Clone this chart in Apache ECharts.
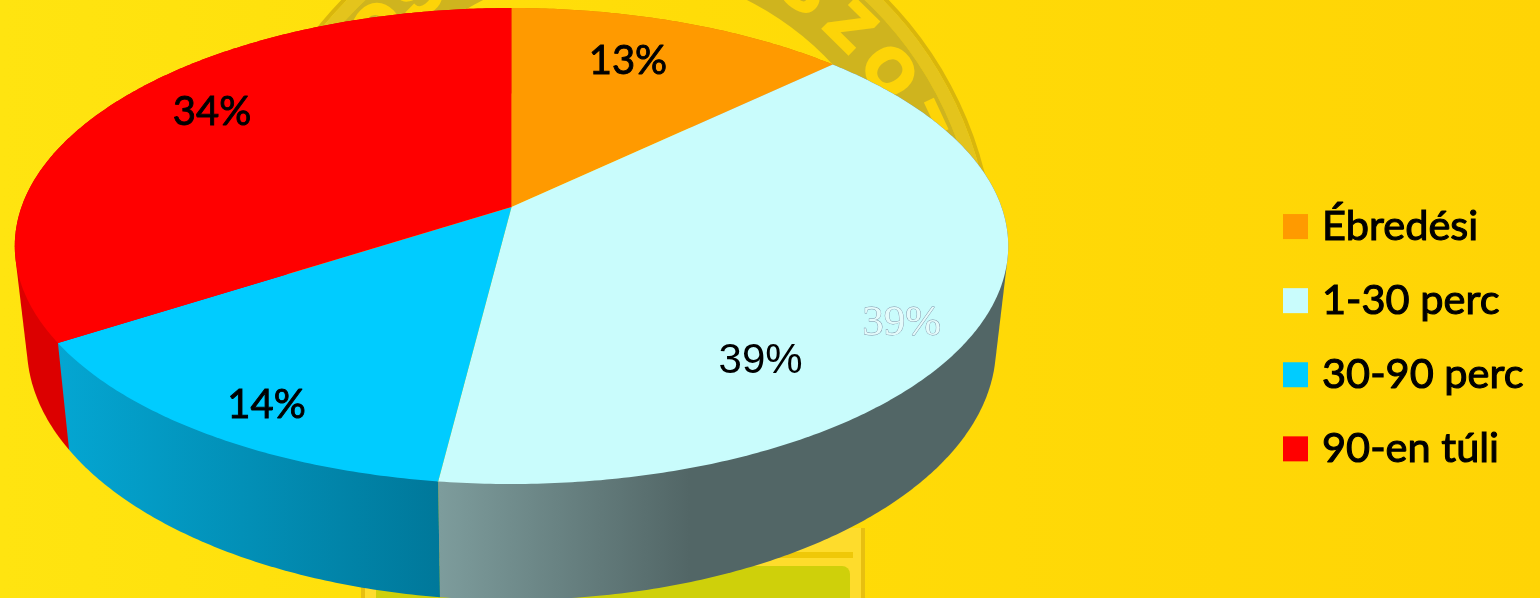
<!DOCTYPE html>
<html>
<head>
<meta charset="utf-8">
<style>html,body{margin:0;padding:0;overflow:hidden}#chart{width:1540px;height:598px}</style>
<script src="https://cdn.jsdelivr.net/npm/echarts@6/dist/echarts.min.js"></script>
</head>
<body>
<div id="chart"></div>
<script>
// Chart data
const categories = ['Ébredési', '1-30 perc', '30-90 perc', '90-en túli'];
const shares = [13, 39, 14, 34];

// Slice colours: top face and side wall
const topColors = ['#ff9a00', '#c9fcfc', '#00ccff', '#ff0000'];
const wallStops = [
  [[0, '#d98300'], [1, '#d98300']],
  [[0, '#7d9c9c'], [1, '#526666']],
  [[0, '#04a6d2'], [1, '#00789a']],
  [[0, '#dc0000'], [1, '#dc0000']]
];
const wallSpans = [[511, 832], [440, 690], [58, 440], [15, 58]];
// The wall furthest to the back is painted first
const wallOrder = [1, 1, 1, 0];

// Perspective disc: top face and the smaller, lower rim of the cylinder
const topDisc = { x: 511.5, y: 207, a: 490, b: 231.6, p: 0.1639 };
const lowDisc = { x: 511.5, y: 305, a: 478, b: 246.6, p: 0.1639 };

// Label placement: offset in px from the mid-angle point at 72% radius
const labelRadius = 0.72;
const labelShift = [[-10, -8], [-83, 74], [-35, 42], [-7, -19]];
const heavy = { fontFamily: 'Lato', fontSize: 40, stroke: '#000', lineWidth: 0.9 };
const labelFonts = [heavy, { fontFamily: 'Liberation Sans', fontSize: 42 }, heavy, heavy];
const echoShift = [58, 37];

// Projects a point of the unit disc (clockwise angle from north) to the screen
function project(disc, r, angle) {
  const u = r * Math.sin(angle), v = -r * Math.cos(angle);
  const w = 1 - disc.p * v;
  return [disc.x + disc.a * u / w, disc.y + disc.b * v / w];
}

function arc(disc, from, to) {
  const pts = [];
  const n = Math.max(8, Math.ceil((to - from) / 0.01));
  for (let i = 0; i <= n; i++) pts.push(project(disc, 1, from + (to - from) * i / n));
  return pts;
}

// Convex outline of a point set: gives each wall its straight silhouette edges
function hull(points) {
  const pts = points.slice().sort((a, b) => a[0] - b[0] || a[1] - b[1]);
  const cross = (o, a, b) => (a[0] - o[0]) * (b[1] - o[1]) - (a[1] - o[1]) * (b[0] - o[0]);
  const half = list => {
    const out = [];
    list.forEach(p => {
      while (out.length > 1 && cross(out[out.length - 2], out[out.length - 1], p) <= 0) out.pop();
      out.push(p);
    });
    out.pop();
    return out;
  };
  return half(pts).concat(half(pts.slice().reverse()));
}

const total = shares.reduce((s, v) => s + v, 0);
const starts = [];
shares.reduce((acc, v, i) => { starts[i] = acc; return acc + v; }, 0);

function renderSlice(index) {
  return function () {
    const from = starts[index] / total * Math.PI * 2;
    const to = (starts[index] + shares[index]) / total * Math.PI * 2;
    const mid = (from + to) / 2;
    const upper = arc(topDisc, from, to);
    const lower = arc(lowDisc, from, to);
    const span = wallSpans[index];
    const at = project(topDisc, labelRadius, mid);
    const children = [
      {
        type: 'polygon', z2: wallOrder[index],
        shape: { points: hull(upper.concat(lower)) },
        style: {
          fill: {
            type: 'linear', global: true, x: span[0], y: 0, x2: span[1], y2: 0,
            colorStops: wallStops[index].map(s => ({ offset: s[0], color: s[1] }))
          }
        }
      },
      {
        type: 'polygon', z2: 2,
        shape: { points: [[topDisc.x, topDisc.y]].concat(upper) },
        style: { fill: topColors[index] }
      },
      {
        type: 'text', z2: 4,
        x: at[0] + labelShift[index][0], y: at[1] + labelShift[index][1],
        style: Object.assign({
          text: shares[index] + '%', fill: '#000',
          align: 'center', verticalAlign: 'middle'
        }, labelFonts[index])
      }
    ];
    if (index === 1) {
      // Second, outlined copy of this slice's label
      children.push({
        type: 'text', z2: 3,
        x: at[0] + echoShift[0], y: at[1] + echoShift[1],
        style: {
          text: shares[index] + '%', fontFamily: 'Liberation Serif', fontSize: 43,
          fill: '#e4fbfb', stroke: '#7f8fa5', lineWidth: 0.8,
          align: 'center', verticalAlign: 'middle'
        }
      });
    }
    return { type: 'group', children: children };
  };
}

// Faint crest behind the chart: upper arc of a ring, lettering and a shield at the foot
const crest = { x: 615, y: 265 };
const crestLetters = [['S', 34.5], ['Z', 44.6], ['O', 54.8], ['Z', 65], ['O', -45], ['S', -36]];
const upperBand = (r, r0, fill) => ({
  type: 'sector', z: 0,
  shape: { cx: crest.x, cy: crest.y, r: r, r0: r0, startAngle: Math.PI, endAngle: Math.PI * 2 },
  style: { fill: fill }
});
const crestGraphics = [
  { type: 'rect', z: 0, shape: { x: 361, y: 528, width: 504, height: 70 }, style: { fill: '#fedc2c' } },
  { type: 'rect', z: 0, shape: { x: 861, y: 528, width: 4, height: 70 }, style: { fill: '#e8bf10' } },
  { type: 'rect', z: 0, shape: { x: 361, y: 528, width: 4, height: 70 }, style: { fill: '#e8bf10' } },
  { type: 'rect', z: 0, shape: { x: 372, y: 552, width: 481, height: 6 }, style: { fill: '#efc808' } },
  { type: 'rect', z: 0, shape: { x: 376, y: 566, width: 474, height: 32, r: [8, 8, 0, 0] }, style: { fill: '#cfd00a' } },
  upperBand(381, 377, '#d9b60c'),
  upperBand(377, 364, '#e4c41c'),
  upperBand(364, 296, '#cfb41e')
].concat(crestLetters.map(([ch, deg]) => {
  const rad = deg * Math.PI / 180;
  return {
    type: 'text', z: 1,
    x: crest.x + 332 * Math.sin(rad), y: crest.y - 332 * Math.cos(rad),
    rotation: -rad,
    style: {
      text: ch, fill: '#fdd408', stroke: '#fdd408', lineWidth: 4,
      fontFamily: 'Liberation Sans', fontWeight: 'bold', fontSize: 62,
      align: 'center', verticalAlign: 'middle'
    }
  };
}));

const chart = echarts.init(document.getElementById('chart'), null, { renderer: 'canvas' });
chart.setOption({
  animation: false,
  backgroundColor: {
    type: 'linear', x: 0, y: 0, x2: 1, y2: 0,
    colorStops: [
      { offset: 0, color: '#ffe410' },
      { offset: 0.45, color: '#ffdc08' },
      { offset: 1, color: '#ffd405' }
    ]
  },
  graphic: { elements: crestGraphics },
  legend: {
    orient: 'vertical', left: 1283, top: 205, padding: 0,
    itemWidth: 25, itemHeight: 25, itemGap: 31,
    icon: 'rect', selectedMode: false,
    data: categories,
    textStyle: {
      fontFamily: 'Lato', fontSize: 41.5, color: '#000',
      lineHeight: 25, padding: [0, 0, 0, 9],
      textBorderColor: '#000', textBorderWidth: 1.1
    }
  },
  series: categories.map((name, i) => ({
    type: 'custom', name: name, coordinateSystem: 'none',
    silent: true,
    itemStyle: { color: topColors[i] },
    data: [shares[i]],
    renderItem: renderSlice(i)
  }))
});
</script>
</body>
</html>
